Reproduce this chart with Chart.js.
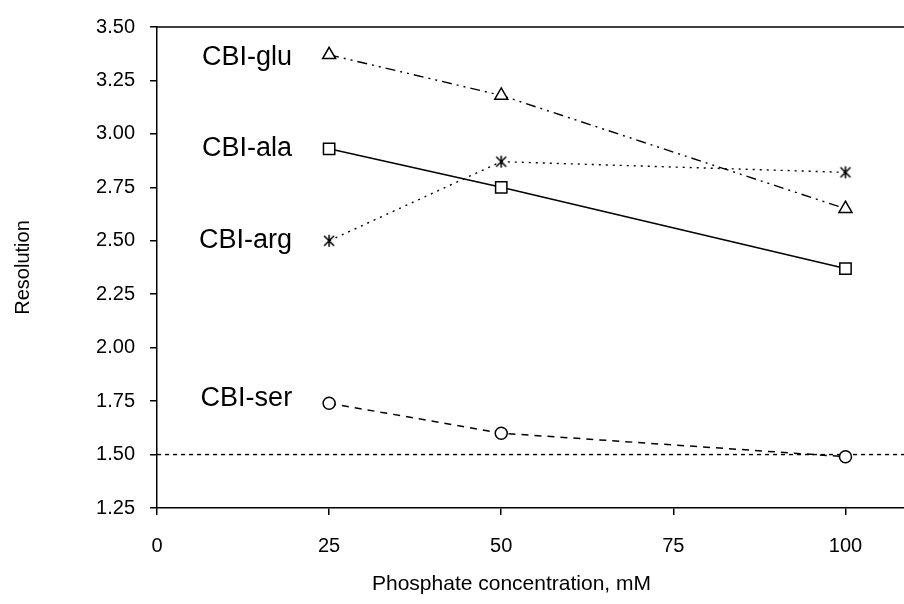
<!DOCTYPE html>
<html>
<head>
<meta charset="utf-8">
<script src="https://cdn.jsdelivr.net/npm/chart.js@4"></script>
<style>
body { margin: 0; background: #fff; }
#wrap { width: 904px; height: 604px; }
</style>
</head>
<body>
<div id="wrap"><canvas id="resChart"></canvas></div>
<script>
// phosphate concentration in mM
const concentrations = [25, 50, 100];

// resolution values for each selector
const seriesNames = ["CBI-glu", "CBI-ala", "CBI-arg", "CBI-ser"];
const gluValues = [3.37, 3.18, 2.65];
const alaValues = [2.93, 2.75, 2.37];
const argValues = [2.50, 2.87, 2.82];
const serValues = [1.74, 1.60, 1.49];

// axis ticks
const xTicks = [0, 25, 50, 75, 100];
const yTicks = [1.25, 1.50, 1.75, 2.00, 2.25, 2.50, 2.75, 3.00, 3.25, 3.50];
const xRange = [0, 108.5];

// baseline resolution (dotted line)
const baseline = 1.5;

const xTitle = "Phosphate concentration, mM";
const font = "'Liberation Sans', Arial, sans-serif";

// asterisk marker: an x with a vertical stroke
const asterisk = document.createElement("canvas");
asterisk.width = 14;
asterisk.height = 14;
(function () {
    const c = asterisk.getContext("2d");
    c.strokeStyle = "#000";
    c.lineWidth = 1.5;
    c.beginPath();
    c.moveTo(2, 2); c.lineTo(12, 12);
    c.moveTo(12, 2); c.lineTo(2, 12);
    c.moveTo(7, 1); c.lineTo(7, 13);
    c.stroke();
})();

function toPoints(values) {
    return values.map((v, i) => ({ x: concentrations[i], y: v }));
}

function series(name, values, style, radius, dash, width) {
    return {
        label: name,
        data: toPoints(values),
        borderColor: "#000",
        borderWidth: width,
        borderDash: dash,
        pointStyle: style,
        pointRadius: radius,
        pointBorderColor: "#000",
        pointBackgroundColor: "#fff",
        pointBorderWidth: 1.5,
        showLine: true
    };
}

const datasets = [
    series(seriesNames[0], gluValues, "triangle", 7.5, [10, 5, 2, 5, 2, 5], 1.4),
    series(seriesNames[1], alaValues, "rect", 8, [], 1.5),
    series(seriesNames[2], argValues, asterisk, 7, [2, 5], 1.4),
    series(seriesNames[3], serValues, "circle", 6, [7, 6], 1.5),
    {
        label: "baseline",
        data: xRange.map(x => ({ x: x, y: baseline })),
        borderColor: "#000",
        borderWidth: 1.4,
        borderDash: [4, 4],
        pointRadius: 0,
        showLine: true
    }
];

// names written to the left of the first point of each line
const nameShift = [3, 0, 0, -5];
const nameLabels = {
    id: "nameLabels",
    afterDatasetsDraw(chart) {
        const ctx = chart.ctx;
        ctx.save();
        ctx.font = "27px " + font;
        ctx.fillStyle = "#000";
        ctx.textAlign = "right";
        ctx.textBaseline = "middle";
        seriesNames.forEach((name, i) => {
            const pt = chart.getDatasetMeta(i).data[0];
            ctx.fillText(name, pt.x - 37, pt.y + nameShift[i]);
        });
        ctx.restore();
    }
};

// top frame line + x axis title (sits a bit left of the axis centre)
const frameAndTitle = {
    id: "frameAndTitle",
    afterDraw(chart) {
        const a = chart.chartArea;
        const ctx = chart.ctx;
        ctx.save();
        ctx.strokeStyle = "#000";
        ctx.lineWidth = 1.5;
        ctx.beginPath();
        ctx.moveTo(a.left, a.top);
        ctx.lineTo(a.right, a.top);
        ctx.stroke();

        ctx.font = "21px " + font;
        ctx.fillStyle = "#000";
        ctx.textAlign = "center";
        ctx.textBaseline = "middle";
        ctx.fillText(xTitle, (a.left + a.right) / 2 - 19, chart.height - 20);
        ctx.restore();
    }
};

new Chart("resChart", {
    type: "scatter",
    data: { datasets: datasets },
    plugins: [nameLabels, frameAndTitle],
    options: {
        responsive: true,
        maintainAspectRatio: false,
        animation: false,
        layout: { autoPadding: false, padding: { top: 25, right: 0, bottom: 0, left: 0 } },
        plugins: {
            legend: { display: false },
            tooltip: { enabled: false }
        },
        scales: {
            x: {
                type: "linear",
                min: xRange[0],
                max: xRange[1],
                afterBuildTicks: (scale) => { scale.ticks = xTicks.map(v => ({ value: v })); },
                afterFit: (scale) => {
                    scale.height = 96;
                    scale.paddingRight = 0;
                    scale.paddingLeft = 0;
                },
                grid: { drawOnChartArea: false, tickLength: 7, color: "#000", lineWidth: 1.5 },
                border: { color: "#000", width: 1.5 },
                ticks: { color: "#000", font: { family: font, size: 20 }, padding: 19, maxRotation: 0 }
            },
            y: {
                min: yTicks[0],
                max: yTicks[yTicks.length - 1],
                afterBuildTicks: (scale) => { scale.ticks = yTicks.map(v => ({ value: v })); },
                afterFit: (scale) => { scale.width = 157; },
                grid: { drawOnChartArea: false, tickLength: 7, color: "#000", lineWidth: 1.5 },
                border: { color: "#000", width: 1.5 },
                ticks: {
                    color: "#000",
                    font: { family: font, size: 20 },
                    padding: 15,
                    callback: (v) => v.toFixed(2)
                },
                title: {
                    display: true,
                    text: "Resolution",
                    color: "#000",
                    font: { family: font, size: 20 },
                    padding: { top: 11, bottom: 0 }
                }
            }
        }
    }
});
</script>
</body>
</html>
